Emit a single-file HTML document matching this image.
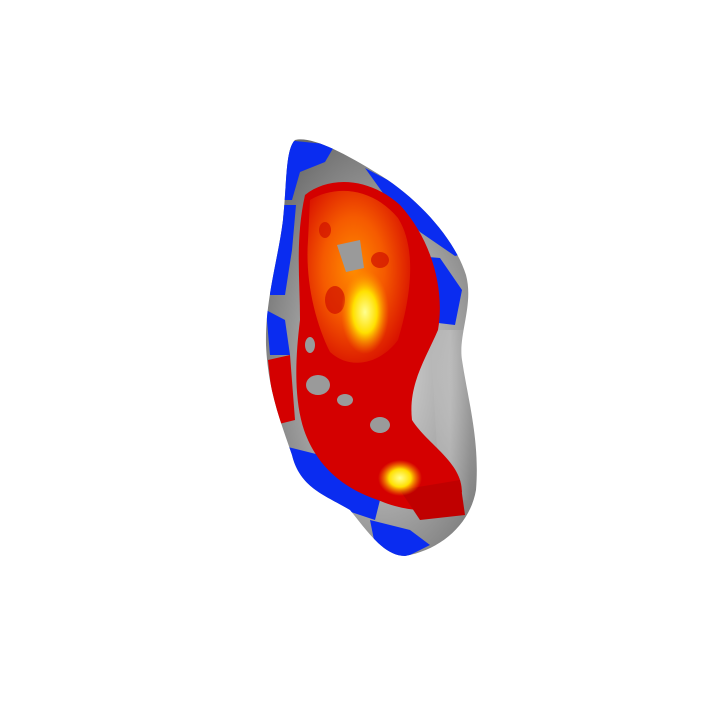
<!DOCTYPE html>
<html><head><meta charset="utf-8"><style>html,body{margin:0;padding:0;background:#fff;width:720px;height:720px;overflow:hidden}</style></head>
<body>
<svg width="720" height="720" viewBox="0 0 720 720">
<defs>
<radialGradient id="gray" cx="0.55" cy="0.55" r="0.6">
<stop offset="0" stop-color="#d8d8d8"/><stop offset="0.5" stop-color="#a8a8a8"/><stop offset="1" stop-color="#6a6a6a"/>
</radialGradient>
<linearGradient id="sheen" x1="0" y1="0" x2="1" y2="0">
<stop offset="0" stop-color="#fff" stop-opacity="0"/><stop offset="0.5" stop-color="#fff" stop-opacity="0.5"/><stop offset="1" stop-color="#fff" stop-opacity="0"/>
</linearGradient>
<radialGradient id="hot" cx="0.45" cy="0.45" r="0.6">
<stop offset="0" stop-color="#ff8c00"/><stop offset="0.5" stop-color="#f55a00"/><stop offset="1" stop-color="#d81000"/>
</radialGradient>
<radialGradient id="yel" cx="0.5" cy="0.5" r="0.5">
<stop offset="0" stop-color="#ffff90"/><stop offset="0.5" stop-color="#ffe000"/><stop offset="1" stop-color="#ff9000" stop-opacity="0"/>
</radialGradient>
<clipPath id="clip"><path d="M295,140 C310,136 340,150 380,175 C420,200 455,240 466,275 C474,305 458,335 462,360 C468,400 480,440 476,490 C470,525 440,550 405,556 C385,556 370,535 350,510 C325,495 300,488 292,455 C280,420 268,390 266,345 C265,300 278,260 283,220 C287,185 285,150 295,140 Z"/></clipPath>
</defs>
<g clip-path="url(#clip)">
<rect x="250" y="130" width="240" height="440" fill="url(#gray)"/>
<path d="M430,330 L470,330 L470,500 L440,500 Z" fill="url(#sheen)" opacity="0.4"/>
<g fill="#0a2cf0">
<path d="M285,140 L335,145 L325,162 L300,172 L292,200 L280,200 Z"/>
<path d="M365,168 L420,197 L470,252 L455,256 L420,232 L388,200 Z"/>
<path d="M405,255 L440,258 L462,290 L455,325 L430,322 L410,290 Z"/>
<path d="M270,205 L296,205 L292,250 L285,295 L270,295 Z"/>
<path d="M280,445 L320,455 L350,482 L380,500 L375,520 L330,505 L295,490 Z"/>
<path d="M370,520 L410,530 L430,545 L400,560 L375,545 Z"/>
<path d="M266,310 L285,320 L290,355 L270,355 Z"/>
</g>
<path d="M305,195 C330,175 370,178 400,205 C432,240 445,290 438,330 C425,360 408,385 412,420 C428,445 462,462 462,492 C448,515 410,514 378,500 C348,490 318,470 304,430 C294,400 295,360 300,320 C300,280 295,240 305,195 Z" fill="#d40000"/>
<path d="M268,360 L290,355 L295,420 L275,425 Z" fill="#d40000"/>
<path d="M400,490 L460,480 L465,515 L420,520 Z" fill="#c00000"/>
<path d="M310,200 C335,185 372,187 398,218 C418,250 410,300 398,340 C382,362 352,372 330,352 C315,322 305,280 308,240 Z" fill="url(#hot)"/>
<g fill="#d01000" opacity="0.7">
<ellipse cx="335" cy="300" rx="10" ry="14"/><ellipse cx="380" cy="260" rx="9" ry="8"/><ellipse cx="325" cy="230" rx="6" ry="8"/>
</g>
<ellipse cx="365" cy="312" rx="24" ry="42" fill="url(#yel)"/>
<ellipse cx="400" cy="478" rx="22" ry="18" fill="url(#yel)"/>
<g fill="#9a9a9a">
<path d="M337,245 L360,240 L364,268 L346,272 Z"/>
<ellipse cx="318" cy="385" rx="12" ry="10"/>
<ellipse cx="345" cy="400" rx="8" ry="6"/>
<ellipse cx="380" cy="425" rx="10" ry="8"/>
<ellipse cx="310" cy="345" rx="5" ry="8"/>
</g>
</g>
</svg>
</body></html>
